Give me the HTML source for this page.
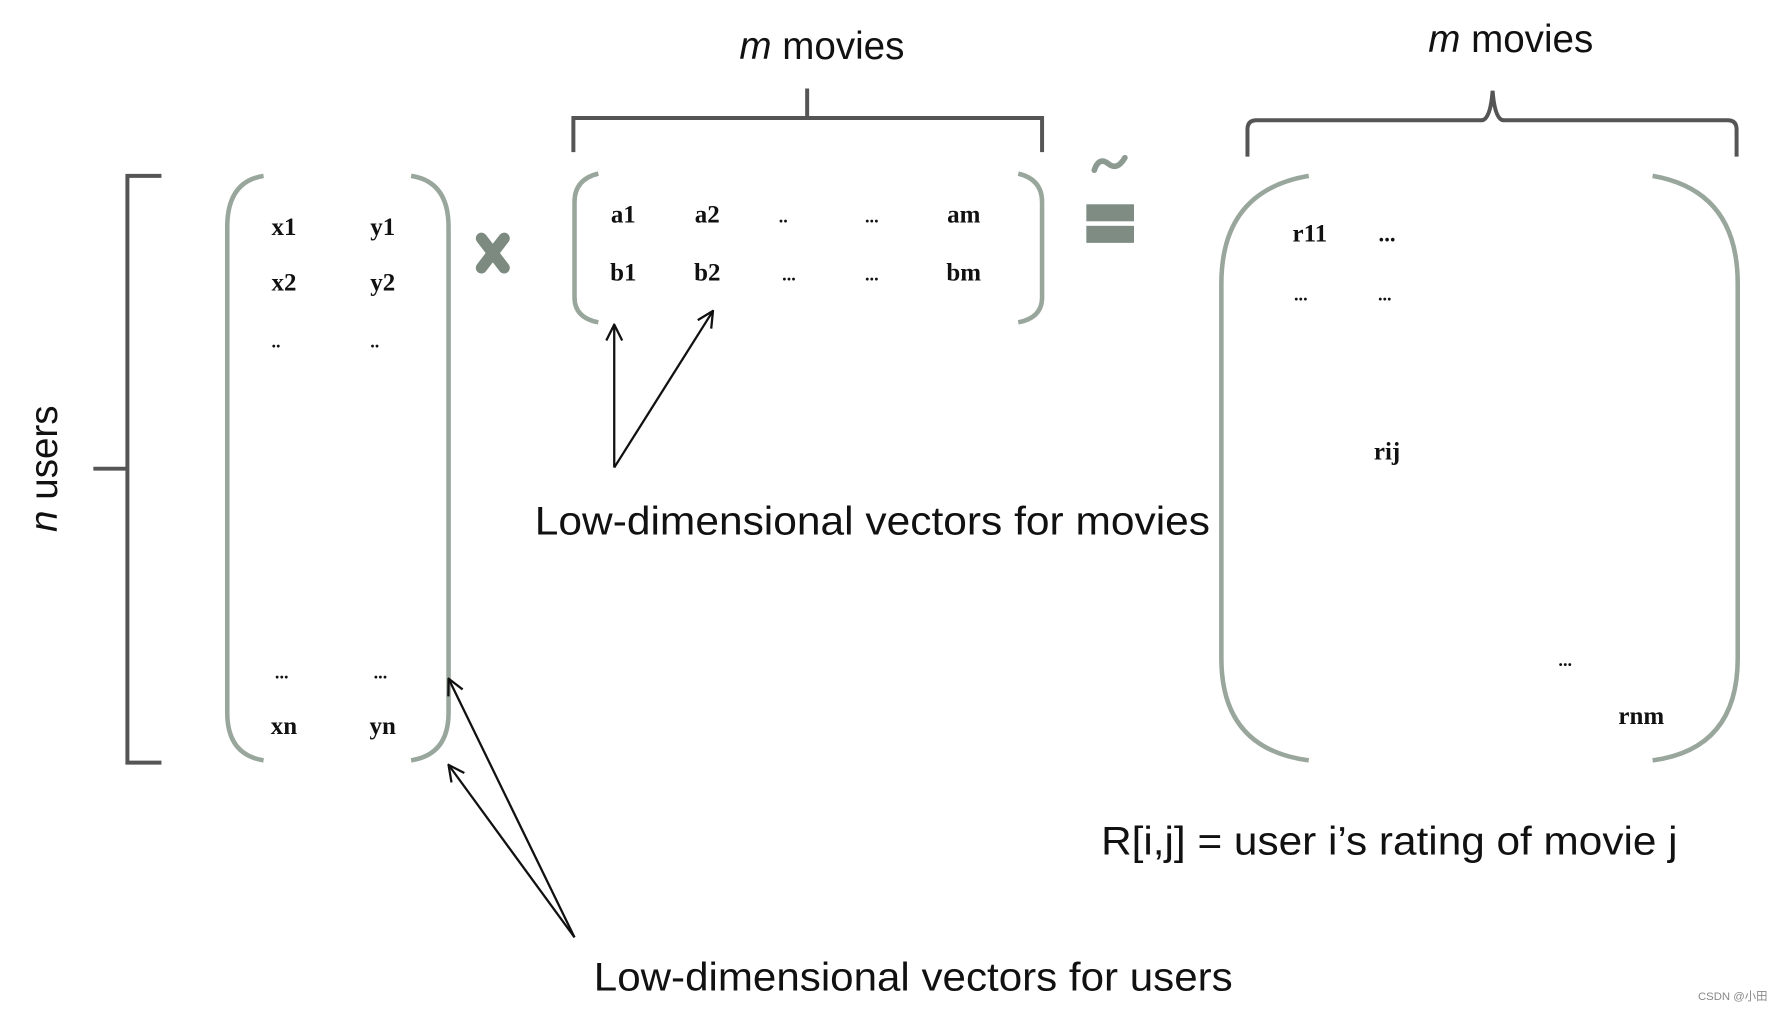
<!DOCTYPE html>
<html><head><meta charset="utf-8"><style>
html,body{margin:0;padding:0;background:#fff;width:1780px;height:1010px;overflow:hidden}
svg{display:block}
.s{font-family:"Liberation Serif",serif;font-size:22px;fill:#111;font-weight:bold}
.l{font-family:"Liberation Sans",sans-serif;fill:#111}
</style></head><body>
<svg width="1780" height="1010" viewBox="0 0 1568 890" xmlns="http://www.w3.org/2000/svg">
<defs>
<marker id="ah" markerWidth="16" markerHeight="16" refX="15" refY="8" orient="auto" markerUnits="userSpaceOnUse">
<path d="M1,1 L15,8 L1,15" fill="none" stroke="#111" stroke-width="2"/>
</marker>
</defs>
<rect width="1568" height="890" fill="#fff"/>
<text class="l" x="724" y="52" font-size="34" text-anchor="middle"><tspan font-style="italic">m</tspan> movies</text>
<text class="l" x="1331" y="46" font-size="34" text-anchor="middle"><tspan font-style="italic">m</tspan> movies</text>
<g fill="none" stroke="#555" stroke-width="3.5">
<path d="M505,134 V104 H918 V134 M711,104 V78"/>
<path d="M1099,138 V114 Q1099,106 1107,106 H1305 Q1313,106 1315,80 Q1317,106 1325,106 H1522 Q1530,106 1530,114 V138"/>
<path d="M142,155 H112 V672 H142 M82,413 H112"/>
</g>
<text class="l" font-size="34" transform="translate(50,413) rotate(-90)" text-anchor="middle"><tspan font-style="italic">n</tspan> users</text>
<g fill="none" stroke="#99a69c" stroke-width="4">
<path d="M232,155 Q200,160 200,200 V628 Q200,665 232,670"/>
<path d="M362,155 Q395,160 395,200 V628 Q395,665 362,670"/>
<path d="M527,153 Q506,158 506,178 V262 Q506,280 527,284"/>
<path d="M897,153 Q918,158 918,178 V262 Q918,280 897,284"/>
<path d="M1153,155 Q1076,168 1076,250 V580 Q1076,660 1153,670"/>
<path d="M1456,155 Q1531,168 1531,250 V580 Q1531,660 1456,670"/>
</g>
<g stroke="#7d8a80" stroke-width="10" stroke-linecap="round">
<path d="M424,210 L444,236 M444,210 L424,236"/>
</g>
<path d="M964,150 Q968,138 976,144 Q984,151 991,139" fill="none" stroke="#8d9a92" stroke-width="5" stroke-linecap="round"/>
<rect x="957" y="180" width="42" height="15" fill="#7f8c83"/>
<rect x="957" y="199" width="42" height="15" fill="#7f8c83"/>
<g class="s">
<text x="250" y="207" text-anchor="middle">x1</text><text x="337" y="207" text-anchor="middle">y1</text>
<text x="250" y="256" text-anchor="middle">x2</text><text x="337" y="256" text-anchor="middle">y2</text>
<text x="243" y="306" text-anchor="middle" font-size="16">..</text><text x="330" y="306" text-anchor="middle" font-size="16">..</text>
<text x="248" y="598" text-anchor="middle" font-size="16">...</text><text x="335" y="598" text-anchor="middle" font-size="16">...</text>
<text x="250" y="647" text-anchor="middle">xn</text><text x="337" y="647" text-anchor="middle">yn</text>
<text x="549" y="196" text-anchor="middle">a1</text><text x="623" y="196" text-anchor="middle">a2</text>
<text x="690" y="196" text-anchor="middle" font-size="16">..</text><text x="768" y="196" text-anchor="middle" font-size="16">...</text>
<text x="849" y="196" text-anchor="middle">am</text>
<text x="549" y="247" text-anchor="middle">b1</text><text x="623" y="247" text-anchor="middle">b2</text>
<text x="695" y="247" text-anchor="middle" font-size="16">...</text><text x="768" y="247" text-anchor="middle" font-size="16">...</text>
<text x="849" y="247" text-anchor="middle">bm</text>
<text x="1154" y="213" text-anchor="middle">r11</text><text x="1222" y="213" text-anchor="middle" font-size="20">...</text>
<text x="1146" y="265" text-anchor="middle" font-size="16">...</text><text x="1220" y="265" text-anchor="middle" font-size="16">...</text>
<text x="1222" y="405" text-anchor="middle">rij</text>
<text x="1379" y="587" text-anchor="middle" font-size="16">...</text>
<text x="1446" y="638" text-anchor="middle">rnm</text>
</g>
<g stroke="#111" stroke-width="2" fill="none">
<line x1="541" y1="412" x2="541" y2="286" marker-end="url(#ah)"/>
<line x1="541" y1="412" x2="628" y2="274" marker-end="url(#ah)"/>
<line x1="506" y1="826" x2="395" y2="598" marker-end="url(#ah)"/>
<line x1="506" y1="826" x2="395" y2="674" marker-end="url(#ah)"/>
</g>
<text class="l" x="471" y="471" font-size="35" textLength="595" lengthAdjust="spacingAndGlyphs">Low-dimensional vectors for movies</text>
<text class="l" x="970" y="753" font-size="35" textLength="508" lengthAdjust="spacingAndGlyphs">R[i,j] = user i’s rating of movie j</text>
<text class="l" x="523" y="873" font-size="35" textLength="563" lengthAdjust="spacingAndGlyphs">Low-dimensional vectors for users</text>
<text x="1496" y="881" font-family="Liberation Sans, 'Noto Sans CJK SC', sans-serif" font-size="10" fill="#888">CSDN @小田</text>
</svg>
</body></html>
